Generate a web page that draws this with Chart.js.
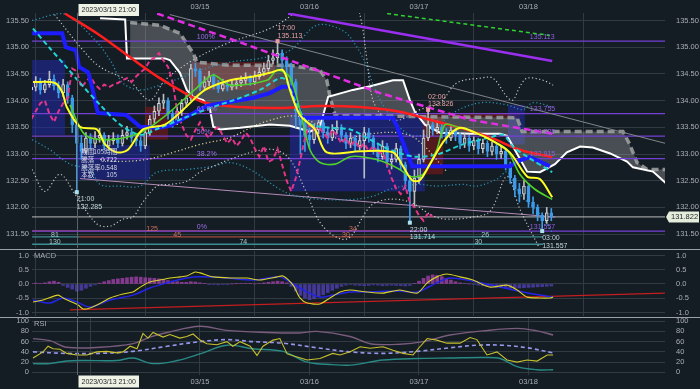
<!DOCTYPE html>
<html>
<head>
<meta charset="utf-8">
<script src="https://cdn.jsdelivr.net/npm/chart.js@4.4.0/dist/chart.umd.min.js"></script>
<style>
  body { margin: 0; width: 700px; height: 389px; background: #141c24; position: relative; overflow: hidden; }
  canvas { position: absolute; left: 0; }
  .sep { position: absolute; left: 0; width: 700px; height: 1px; background: #9aa2a8; }
</style>
</head>
<body>
<canvas id="main" width="700" height="250" style="top:0"></canvas>
<div class="sep" style="top:249px"></div>
<canvas id="macd" width="700" height="67" style="top:250px"></canvas>
<div class="sep" style="top:317px"></div>
<canvas id="rsi" width="700" height="72" style="top:317px"></canvas>
<script>
// ---- time axis (hours counted from 2023/03/13 00:00) ----
const dayTicks = [24, 48, 72, 96, 120];
const dayLabels = ['03/14', '03/15', '03/16', '03/17', '03/18'];
const crossHour = 21;
const crossLabel = '2023/03/13 21:00';

// ---- hourly candles, first one at 03/13 11:00 ----
const firstHour = 11;
const firstOpen = 134.20;
const closes = [
  134.25,134.35,134.20,134.30,134.40,134.28,134.15,134.30,134.05,
  133.55,133.20,133.05,133.30,133.20,133.30,133.35,133.15,133.25,133.30,
  133.20,133.35,133.40,133.30,133.25,133.15,133.40,133.65,133.80,133.95,
  134.00,133.75,133.60,133.80,133.95,134.05,134.60,134.55,134.25,134.35,
  134.45,134.30,134.22,134.30,134.25,134.30,134.33,134.38,134.42,134.35,
  134.45,134.53,134.60,134.75,134.80,134.89,134.75,134.63,134.35,133.80,
  133.55,133.35,133.27,133.45,133.59,133.40,133.30,133.45,133.50,133.35,
  133.20,133.30,133.15,133.25,133.40,133.30,133.10,132.95,133.15,132.85,
  132.90,133.10,132.80,132.50,132.30,132.55,132.90,133.30,133.55,133.45,
  133.50,133.40,133.30,133.45,133.35,133.20,133.30,133.15,133.25,133.10,
  133.20,133.05,133.15,133.00,133.05,132.80,132.55,132.35,132.25,132.40,
  132.10,132.00,131.85,131.75,131.90,131.822
];
const highs = [
  134.40,134.45,134.42,134.38,134.55,134.48,134.35,134.40,134.35,
  134.10,133.60,133.35,133.40,133.38,133.42,133.48,133.40,133.35,133.40,
  133.36,133.45,133.52,133.48,133.38,133.32,133.48,133.72,133.90,134.05,
  134.12,134.05,133.82,133.88,134.02,134.15,134.68,134.70,134.60,134.45,
  134.55,134.50,134.38,134.40,134.36,134.40,134.42,134.46,134.52,134.48,
  134.55,134.62,134.70,134.85,134.95,135.113,134.95,134.82,134.70,134.40,
  133.90,133.62,133.48,133.55,133.68,133.65,133.48,133.55,133.62,133.55,
  133.40,133.40,133.35,133.35,133.50,133.48,133.35,133.18,133.25,133.20,
  133.00,133.20,133.15,132.85,132.60,132.70,133.00,133.45,133.826,133.65,
  133.62,133.58,133.48,133.55,133.50,133.40,133.38,133.35,133.32,133.30,
  133.28,133.25,133.22,133.20,133.15,133.10,132.85,132.60,132.45,132.50,
  132.45,132.20,132.05,131.90,132.00,131.98
];
const lows = [
  134.10,134.18,134.12,134.15,134.25,134.20,134.05,134.08,133.95,
  133.40,132.285,132.90,133.00,133.10,133.12,133.22,133.08,133.10,133.18,
  133.12,133.15,133.28,133.22,133.15,133.05,133.10,133.35,133.58,133.72,
  133.85,133.65,133.50,133.55,133.72,133.88,134.00,134.45,134.18,134.20,
  134.28,134.22,134.15,134.18,134.18,134.20,134.22,134.26,134.30,134.28,
  134.30,134.40,134.46,134.55,134.68,134.70,134.60,134.40,134.10,133.50,
  133.00,133.05,133.10,133.20,133.38,133.30,133.20,133.25,133.38,133.25,
  133.10,133.12,133.05,133.08,132.55,133.22,133.00,132.85,132.90,132.75,
  132.72,132.85,132.70,132.35,131.714,132.00,132.45,132.85,133.25,133.35,
  133.38,133.30,133.20,133.25,133.25,133.10,133.12,133.05,133.08,133.00,
  133.02,132.95,132.98,132.90,132.92,132.70,132.45,132.20,132.10,132.15,
  132.00,131.88,131.75,131.557,131.70,131.75
];
const lastPrice = 131.822;
const chikouShift = 26;

// ---- price panel indicator lines (hour, price) ----
const redMaH = [18.4,26.1,32.7,39.2,44.7,49.1,56.8,65.5,74.3,83.1,91.8,98.4,105,111.6,118.1,125.2];
const redMaV = [135.63,135.22,134.81,134.42,134.14,133.96,133.88,133.86,133.90,133.88,133.79,133.64,133.49,133.31,133.08,132.94];
const blueH = [11.2,17.8,18.6,20.8,21.5,23.5,24.5,25.6,31.8,34.9,39.2,41.4,44.7,49.5,54.6,59.6,63.3,66.0,67.7,68.6,70.4,90.3,91.2,94.5,115.9,118.1,120.3,122.5,124.7];
const blueV = [135.26,135.26,135.00,134.94,134.63,134.53,134.20,133.77,133.73,133.51,133.49,133.53,133.68,133.90,133.98,134.05,134.14,134.26,134.26,134.11,133.68,133.68,133.51,132.77,132.77,132.88,132.94,132.86,132.77];
const cyanH = [11.4,15.1,18.4,21.7,26.1,30.5,34.9,39.2,44.7,50.2,56.8,61.1,66.2,68.8,71.7,76.5,80.9,85.3,89.6,95.1,99.9,105.6,111.6,114.4,116.6,119.7,125.2];
const cyanV = [135.35,134.98,134.66,134.33,133.92,133.55,133.36,133.49,133.68,133.86,134.05,134.20,134.42,134.01,133.58,133.49,133.46,133.27,133.08,132.95,132.99,133.18,133.31,133.36,133.14,132.95,132.66];
const yellowH = [11.4,16.2,17.8,18.8,21.7,25.4,27.2,29.8,32.2,35.5,40.3,44.3,49.1,54.6,59.0,63.3,66.2,67.7,69.9,73.2,75.8,83.1,90.3,92.5,94.5,96.2,98.4,101.7,105.0,108.3,111.6,115.9,119.7,122.5,125.2];
const yellowV = [134.35,134.33,134.16,133.88,133.51,133.46,133.18,133.03,133.08,133.46,133.55,133.83,134.20,134.38,134.44,134.52,134.57,134.20,133.73,133.46,133.03,133.05,133.03,132.77,132.51,132.51,132.81,133.27,133.49,133.40,133.27,133.03,132.58,132.53,132.19];
const greenH = [19.5,22.8,28.3,34.9,39.9,47.3,50.9,54.6,62.7,64.9,67.7,69.9,72.1,74.3,77.6,80.9,84.2,88.1,91.8,94.0,96.9,99.9,101.7,104.3,107.8,111.6,115.3,118.1,121.4,125.2];
const greenV = [133.92,133.36,133.27,133.40,133.68,134.24,134.48,134.29,134.38,134.57,134.44,133.83,133.08,132.84,132.81,132.95,132.94,132.86,132.71,132.58,132.62,133.08,133.55,133.51,133.42,133.27,133.08,132.62,132.34,132.15];
const spanAH = [26.1,31.6,32.0,40.3,41.4,43.6,45.1,46.5,48.7,50.2,50.9,52.4,56.8,63.3,67.7,72.1,74.3,76.1,81.5,85.3,90.3,92.5,94.0,95.1,97.3,100.6,107.2,113.8,115.3,117.0,119.7,122.5,125.8,128.4,131.3,134.1,137.9,141.6,142.9,147.3,150.4];
const spanAV = [135.54,135.52,134.79,134.79,134.76,134.52,134.20,134.07,134.01,133.83,133.51,133.46,133.49,133.55,133.53,133.42,133.51,134.07,134.20,134.27,134.38,134.38,134.01,133.79,133.55,133.40,133.38,133.38,133.34,133.08,132.67,132.66,132.81,133.03,133.14,133.12,133.01,132.86,132.75,132.67,132.43];
const spanBH = [32.7,39.2,43.6,46.5,47.3,54.6,67.7,74.3,75.8,76.5,77.6,96.2,117.5,118.6,140.7,142.2,143.8,146.0,150.4];
const spanBV = [135.46,135.41,135.26,134.89,134.72,134.66,134.66,134.57,134.38,134.07,133.73,133.70,133.68,133.42,133.42,133.18,132.84,132.71,132.71];
const bandUpH = [15.1,22.4,26.1,32.7,37.0,40.3,46.5,53.9,63.3,68.4,72.1,80.9,83.1,84.6,85.9,88.5,91.8,96.2,100.6,104.3,109.4,112.2,115.3,116.6,118.1,119.7,123.2,125.4];
const bandUpV = [135.72,134.94,134.63,134.35,134.01,134.38,134.76,135.07,135.35,135.63,136.06,136.06,135.59,134.76,134.01,133.68,133.64,133.83,133.96,134.33,134.42,134.42,134.07,134.01,134.26,134.42,134.38,134.29];
const bandLoH = [11.2,14.0,17.3,20.6,25.4,28.3,31.1,33.3,35.5,38.6,41.4,45.1,48,50.9,54.6,60.1,64.4,67.7,71.0,74.9,80.2,85.3,89.0,94.0,99.1,102.1,107.8,111.6,115.3,118.1,122.5];
const bandLoV = [132.71,132.30,132.62,132.25,131.69,131.65,131.78,131.82,132.10,132.40,132.43,132.49,132.66,132.77,132.90,133.05,133.08,132.90,132.34,131.65,131.41,132.02,132.15,132.10,131.84,131.78,131.82,131.93,132.58,131.97,131.22];
const band1UpH = [11.2,18.0,24.5,28.3,31.1,34.9,39.2,43.6,48,54.6,61.1,67.7,73.6,79.3,82.4,84.6,86.4,89.6,94.0,98.4,103.5,109.4,115.3,118.8,121.0,125.4];
const band1UpV = [135.50,135.63,135.18,134.76,134.33,134.20,134.29,134.42,134.57,134.72,134.79,134.94,135.41,135.31,135.00,134.63,134.20,133.73,133.36,133.40,133.77,133.96,133.92,133.83,133.96,133.88];
const band1LoH = [11.2,15.1,19.5,23.9,26.1,30.5,34.9,38.6,45.1,50.9,54.6,59.0,65.5,69.3,74.9,81.5,85.9,89.6,95.6,99.9,105.6,108.7,113.1,115.3,118.1,122.5,125.4];
const band1LoV = [133.27,133.08,132.81,132.71,132.43,132.40,132.40,132.66,132.71,132.77,132.84,132.71,132.34,132.21,132.15,132.15,132.21,132.34,132.43,132.40,132.43,132.40,132.53,132.66,132.25,131.88,131.50];
const creamH = [26.1,29.8,36.4,42.1,48,54.6,61.8,69.9,78.7,83.7,91.2,95.6,102.1];
const creamV = [132.90,132.86,132.90,133.03,133.18,133.31,133.59,133.70,133.27,133.36,133.40,133.27,132.67];

// ---- drawn trend lines ----
const trendGrayH = [41.4, 150.4], trendGrayV = [135.61, 133.19];
const trendLavH = [21.7, 125.8], trendLavV = [132.54, 131.82];
const trendPurpleH = [67.3, 125.2], trendPurpleV = [135.63, 134.74];
const trendGreenH = [89.0, 124.7], trendGreenV = [135.63, 135.22];
const trendMagH = [38.6, 56.8, 87.5, 107.2, 125.2], trendMagV = [135.63, 135.09, 134.14, 133.64, 133.38];

// ---- fibonacci levels ----
const fibLevels = [135.113, 133.755, 133.335, 132.915, 131.557];
const fibNames = ['100%', '61.8%', '50%', '38.2%', '0%'];

// ---- swing labels ----
const pivotH = [65, 98, 21, 94, 123];
const pivotP = [135.113, 133.826, 132.285, 131.714, 131.557];
const pivotTime = ['17:00', '02:00', '21:00', '22:00', '03:00'];
const pivotSide = ['high', 'high', 'low', 'low', 'low'];

// ---- range boxes ----
const boxKind = ['navy', 'navy', 'red', 'red', 'navy', 'red', 'red', 'navy'];
const boxH1 = [11.2, 21.3, 36.0, 46.2, 67.7, 96.9, 101.3, 115.5];
const boxH2 = [18.4, 37.0, 41.0, 64.4, 97.3, 101.3, 118.1, 119.2];
const boxTop = [134.76, 133.17, 133.88, 134.72, 133.73, 133.77, 133.77, 133.92];
const boxBottom = [133.36, 132.52, 133.27, 134.20, 132.30, 132.62, 133.68, 133.18];
const infoKeys = ['期間', '騰落', '騰落率', '本数'];
const infoVals = ['105時間', '0.722', '0.548', '105'];

// ---- bar-count lines at the bottom ----
const cycleP = [131.56, 131.45, 131.45, 131.45, 131.31];
const cycleH1 = [11.2, 11.2, 21.5, 94.5, 11.2];
const cycleH2 = [97.8, 21.5, 94.5, 123.2, 123.2];
const cycleKind = ['red', 'teal', 'red', 'teal', 'teal'];
const cycleText = ['125', '34', '81', '45', '30', '26', '130', '74', '30'];
const cycleTextH = [37.5, 81.5, 16.2, 43.0, 80.0, 110.5, 16.2, 57.5, 109.0];
const cycleTextP = [131.56, 131.56, 131.45, 131.45, 131.45, 131.45, 131.31, 131.31, 131.31];
const cycleTextKind = ['red', 'red', 'teal', 'red', 'red', 'teal', 'teal', 'teal', 'teal'];
const priceTicks = [131.5, 132, 132.5, 133, 133.5, 134, 134.5, 135, 135.5];

// ---- MACD ----
const macdH = [11.4,13.6,16.9,18.0,19.9,21.3,22.4,23.9,25.4,28.3,31.1,33.3,34.9,37.0,39.2,41.4,43.6,45.1,46.9,48,50.9,55.2,58.3,61.1,64.9,66.2,68.4,69.9,71.5,74.3,76.5,78.7,80.9,84.6,88.1,91.8,95.6,97.8,99.9,102.1,105.0,107.8,111.6,115.3,117.5,119.7,122.5,124.7,125.4];
const macdV = [-0.63,-0.56,-0.39,-0.49,-0.63,-0.74,-0.88,-0.84,-0.74,-0.49,-0.35,-0.28,-0.11,0.07,0.14,0.21,0.25,0.28,0.42,0.39,0.25,0.21,0.21,0.14,0.25,0.28,-0.04,-0.49,-0.67,-0.70,-0.49,-0.28,-0.21,-0.28,-0.32,-0.21,-0.32,0.04,0.25,0.35,0.25,0.14,-0.11,-0.04,-0.21,-0.46,-0.49,-0.49,-0.46];
const signalH = [11.4,15.1,18.0,21.0,23.9,28.3,33.3,37.0,40.8,45.1,48,53.9,59.6,65.5,67.7,71.5,74.3,77.1,80.9,84.6,91.8,95.6,99.9,102.8,108.7,113.8,118.8,122.5,125.4];
const signalV = [-0.56,-0.67,-0.49,-0.63,-0.81,-0.56,-0.39,-0.14,0.04,0.21,0.25,0.21,0.14,0.25,0.07,-0.28,-0.46,-0.39,-0.28,-0.28,-0.25,-0.28,0.04,0.21,0.07,-0.11,-0.28,-0.39,-0.46];
const macdLongH = [19.5, 149.9];
const macdLongV = [-0.91, -0.32];
const histVals = [
  0.02,0.03,0.02,0.04, 0.08,0.10,0.06, -0.05,-0.12,-0.18, -0.25,-0.22,-0.15,-0.08,
  -0.03,0.03,0.08, 0.12,0.16,0.18,0.20,0.22,0.24,0.25,0.24, 0.22,0.21,0.20,0.18,0.15,0.12,
  0.10,0.08,0.06,0.06,0.08,0.07,0.04,
  0.01,-0.01,-0.02,-0.03,-0.02,-0.01,0.0,0.01,0.02,0.02,0.01,0.0,0.02,0.04,
  0.06,0.08,0.10,0.08,0.04, -0.08,-0.25,-0.40,-0.50,-0.55,-0.52,-0.45,
  -0.38,-0.30,-0.22,-0.15,-0.08,-0.04,-0.02,
  -0.04,-0.05,-0.06,-0.05,-0.03,-0.04,-0.06,-0.05,-0.04,-0.05,-0.06,-0.07,-0.05,
  0.02,0.10,0.20,0.28,0.32,0.30,0.26,0.20,0.14,0.08, 0.04,0.02,0.0,-0.02,-0.04,
  -0.06,-0.08,-0.10,-0.12,-0.13,-0.14,-0.15,-0.15,-0.14,-0.13,-0.12,-0.11,-0.10,-0.09,-0.08,-0.07
];
const macdTicks = [-1, -0.5, 0, 0.5, 1];

// ---- RSI ----
const rsiH = [11.4,13.6,14.7,15.8,17.3,18.8,21.0,23.2,25.4,27.6,29.8,31.1,32.7,34.2,35.5,36.6,37.7,39.9,41.4,43.6,45.1,46.5,48,49.5,51.7,53.9,55.2,56.8,59.0,60.5,61.8,64.0,65.5,67.1,69.3,71.5,74.3,77.1,78.7,80.9,83.1,85.3,88.1,90.3,92.5,94.7,96.2,97.8,99.9,102.1,105.0,107.2,108.7,110.9,113.1,115.3,117.5,119.7,121.9,124.1,125.4];
const rsiV = [28,40,51,46,45,37,34,34,40,41,38,40,51,46,76,67,78,69,74,67,70,75,63,56,54,60,51,60,51,33,51,63,66,36,30,24,27,37,34,40,50,47,50,43,37,34,50,66,63,57,57,68,64,34,40,24,20,24,22,34,34];
const rsiAvgH = [11.4,18.8,26.1,33.3,40.8,48,53.9,59.6,66.2,73.6,80.9,88.1,95.6,102.8,108.7,114.4,119.7,125.4];
const rsiAvgV = [40,37,37,41,51,60,64,60,57,48,40,37,41,48,53,53,48,38];
const rsiHiH = [11.4,15.1,18.8,26.1,33.3,37.0,40.8,48,53.9,62.7,69.9,73.6,80.9,85.3,91.8,96.9,102.8,110.0,117.5,121.9,125.4];
const rsiHiV = [66,62,49,49,56,69,78,90,82,78,77,80,70,56,55,60,73,81,86,81,73];
const rsiLoH = [11.4,15.1,18.8,22.4,29.8,33.3,37.7,43.0,48,53.9,59.6,66.2,71.5,77.1,80.9,88.1,95.6,102.8,110.0,113.8,117.5,121.9,125.4];
const rsiLoV = [17,17,22,23,23,28,17,23,36,53,46,41,20,15,14,24,27,28,29,27,11,5,5];
const rsiTicks = [0, 20, 40, 60, 80, 100];

// ---------------- styling & helpers ----------------
const FAM = '"Liberation Sans", Arial, sans-serif';
const font = s => s + 'px ' + FAM;
const axisColor = '#a9aeb3';
const gridColor = '#323a42';
const crossColor = '#59616a';
const xMin = 11.18, xMax = 149.92;
const boxColors = { navy: 'rgba(32,42,170,0.55)', red: 'rgba(125,24,24,0.62)' };
const cycleColors = { red: '#a34a3a', teal: '#3d8d90' };
const cycleTextColors = { red: '#d0705e', teal: '#a2cccc' };

const pts = (hs, vs) => hs.map((h, i) => ({ x: h, y: vs[i] }));
const line = (data, color, width, order, extra) => Object.assign({
  type: 'line', data, borderColor: color, borderWidth: width, pointRadius: 0,
  fill: false, tension: 0, order
}, extra || {});

function yAxes(min, max, ticks, fmt) {
  const common = {
    type: 'linear', min, max,
    afterBuildTicks: s => { s.ticks = ticks.map(v => ({ value: v })); },
    ticks: { color: axisColor, font: { family: FAM, size: 7.5 }, padding: 3, autoSkip: false, callback: v => fmt(v) },
    border: { display: false }
  };
  return {
    y: Object.assign({}, common, { position: 'left', grid: { color: gridColor, drawTicks: false },
      afterFit: s => { s.width = 32; s.paddingTop = 0; s.paddingBottom = 0; } }),
    yR: Object.assign({}, common, { position: 'right', grid: { display: false },
      afterFit: s => { s.width = 35; s.paddingTop = 0; s.paddingBottom = 0; } })
  };
}
function xAxis(position, height, showLabels) {
  return {
    type: 'linear', position, min: xMin, max: xMax, offset: false,
    afterBuildTicks: s => { s.ticks = dayTicks.map(v => ({ value: v })); },
    afterFit: s => { s.height = height; s.paddingLeft = 0; s.paddingRight = 0; },
    ticks: { display: showLabels, color: axisColor, font: { family: FAM, size: 7.5 }, padding: 2,
      maxRotation: 0, autoSkip: false, callback: v => dayLabels[dayTicks.indexOf(v)] },
    grid: { color: gridColor, drawTicks: false }, border: { display: false }
  };
}
function baseOptions(scales, padding) {
  return {
    responsive: false, animation: false, devicePixelRatio: 1,
    layout: { padding, autoPadding: false },
    plugins: { legend: { display: false }, tooltip: { enabled: false } },
    scales
  };
}
function crossLine(chart, top, bottom) {
  const { ctx, scales: { x } } = chart;
  const cx = Math.round(x.getPixelForValue(crossHour)) + 0.5;
  ctx.save();
  ctx.strokeStyle = crossColor; ctx.lineWidth = 1;
  ctx.beginPath(); ctx.moveTo(cx, top); ctx.lineTo(cx, bottom); ctx.stroke();
  ctx.restore();
  return cx;
}
function crossBox(ctx, cx, top) {
  ctx.save();
  ctx.font = font(7);
  const w = ctx.measureText(crossLabel).width + 6;
  ctx.fillStyle = '#edf2e4';
  ctx.fillRect(cx + 1, top, w, 12);
  ctx.fillStyle = '#1e2226';
  ctx.textBaseline = 'middle'; ctx.textAlign = 'left';
  ctx.fillText(crossLabel, cx + 4, top + 6.5);
  ctx.restore();
}

// ---------------- price panel ----------------
const opens = closes.map((c, i) => (i === 0 ? firstOpen : closes[i - 1]));
const candleHour = i => firstHour + i;
const isUp = closes.map((c, i) => c >= opens[i]);

const mainSets = [];
const addSet = d => mainSets.push(d) - 1;

const spanBIdx = addSet(line(pts(spanBH, spanBV), '#8c8f90', 3.5, 90, { borderDash: [7, 4] }));
addSet(line(pts(spanAH, spanAV), '#ffffff', 2, 89, {
  fill: { target: spanBIdx, above: 'rgba(165,170,170,0.36)', below: 'rgba(165,170,170,0.36)' }
}));
fibLevels.forEach(lv => addSet(line([{ x: xMin, y: lv }, { x: xMax, y: lv }], '#7440d4', 1.3, 80)));
cycleP.forEach((p, i) => addSet(line([{ x: cycleH1[i], y: p }, { x: cycleH2[i], y: p }], cycleColors[cycleKind[i]], 1.3, 80)));
addSet(line([{ x: xMin, y: lastPrice }, { x: xMax, y: lastPrice }], 'rgba(215,215,215,0.85)', 1, 79));
addSet(line(pts(trendGrayH, trendGrayV), '#80868a', 1, 78));
addSet(line(pts(trendLavH, trendLavV), '#b48cb8', 1, 78));
const dots = { borderDash: [1.2, 2.4], tension: 0.35 };
addSet(line(pts(bandUpH, bandUpV), 'rgba(225,225,225,0.85)', 1.2, 70, dots));
addSet(line(pts(bandLoH, bandLoV), 'rgba(225,225,225,0.85)', 1.2, 70, dots));
addSet(line(pts(band1UpH, band1UpV), '#2b8fb0', 1.3, 70, dots));
addSet(line(pts(band1LoH, band1LoV), '#2b8fb0', 1.3, 70, dots));
addSet(line(pts(creamH, creamV), '#d6cc98', 1.3, 70, dots));
addSet({
  type: 'bar', order: 60, grouped: false, barThickness: 1,
  data: closes.map((c, i) => ({ x: candleHour(i), y: [lows[i], highs[i]] })),
  backgroundColor: isUp.map(u => (u ? '#b9bec2' : '#3d9be9'))
});
addSet({
  type: 'bar', order: 59, grouped: false, barThickness: 3, minBarLength: 1,
  data: closes.map((c, i) => ({ x: candleHour(i), y: [opens[i], c] })),
  backgroundColor: isUp.map(u => (u ? 'rgba(20,28,36,0.7)' : '#3d9be9')),
  borderColor: isUp.map(u => (u ? '#d2d6d9' : '#3d9be9')),
  borderWidth: 1, borderSkipped: false
});
addSet(line(closes.map((c, i) => ({ x: candleHour(i) - chikouShift, y: c })), '#e3338a', 2, 50, { borderDash: [5, 3] }));
addSet(line(pts(redMaH, redMaV), '#ff1e1e', 2.5, 36, { tension: 0.35 }));
addSet(line(pts(blueH, blueV), '#1c1cff', 4, 35));
addSet(line(pts(cyanH, cyanV), '#22d3d3', 2, 33, { borderDash: [5, 3], tension: 0.3 }));
addSet(line(pts(greenH, greenV), '#4ed12a', 1.6, 32, { tension: 0.3 }));
addSet(line(pts(yellowH, yellowV), '#ffff22', 2, 30, { tension: 0.3 }));
addSet(line(pts(trendPurpleH, trendPurpleV), '#9a2ff0', 2.5, 20));
addSet(line(pts(trendGreenH, trendGreenV), '#2fd42f', 1.5, 20, { borderDash: [4, 3] }));
addSet(line(pts(trendMagH, trendMagV), '#e22ee2', 2.5, 20, { borderDash: [7, 4] }));

const mainOverlay = {
  id: 'mainOverlay',
  beforeDatasetsDraw(chart) {
    const { ctx, chartArea: a, scales: { x, y } } = chart;
    ctx.save();
    ctx.beginPath(); ctx.rect(a.left, a.top, a.right - a.left, a.bottom - a.top); ctx.clip();
    boxKind.forEach((k, i) => {
      const x1 = x.getPixelForValue(boxH1[i]), x2 = x.getPixelForValue(boxH2[i]);
      const y1 = y.getPixelForValue(boxTop[i]), y2 = y.getPixelForValue(boxBottom[i]);
      ctx.fillStyle = boxColors[k];
      ctx.fillRect(x1, y1, x2 - x1, y2 - y1);
    });
    ctx.restore();
  },
  afterDatasetsDraw(chart) {
    const { ctx, chartArea: a, scales: { x, y } } = chart;
    const X = v => x.getPixelForValue(v), Y = v => y.getPixelForValue(v);
    const cx = crossLine(chart, a.top, a.bottom);
    ctx.save();
    // fibonacci labels
    ctx.font = font(7); ctx.textBaseline = 'bottom'; ctx.textAlign = 'left';
    fibLevels.forEach((lv, i) => {
      ctx.fillStyle = '#9d72ea';
      ctx.fillText(fibNames[i], X(47.3), Y(lv) - 1);
      ctx.fillStyle = '#8f62de';
      ctx.fillText(lv.toFixed(3), X(120.3), Y(lv) - 1);
    });
    // bar-count labels
    ctx.textAlign = 'center'; ctx.textBaseline = 'middle';
    cycleText.forEach((t, i) => {
      ctx.fillStyle = cycleTextColors[cycleTextKind[i]];
      ctx.fillText(t, X(cycleTextH[i]), Y(cycleTextP[i]) - 2);
    });
    // info box text
    const bx = X(boxH1[1]), by = Y(boxTop[1]);
    ctx.font = '6.5px "Noto Sans CJK JP", ' + FAM;
    infoKeys.forEach((k, i) => {
      ctx.fillStyle = '#d8dbe8';
      ctx.textAlign = 'left'; ctx.fillText(k, bx + 3, by + 7 + i * 7.6);
      ctx.textAlign = 'right'; ctx.fillText(infoVals[i], bx + 39, by + 7 + i * 7.6);
    });
    // swing high / low labels
    ctx.font = font(7); ctx.textAlign = 'left';
    pivotH.forEach((h, i) => {
      const px = X(h), py = Y(pivotP[i]);
      const hi = pivotSide[i] === 'high';
      ctx.fillStyle = hi ? '#e99d9d' : '#a9e2ea';
      ctx.fillRect(px - 2, py - 2, 4, 4);
      ctx.fillStyle = hi ? '#e6a3a3' : '#c2d8dc';
      const t1 = hi ? py - 13 : py + 7, t2 = hi ? py - 5.5 : py + 14.5;
      ctx.fillText(pivotTime[i], px, t1);
      ctx.fillText(pivotP[i].toFixed(3), px, t2);
    });
    // last price tag
    const ly = Y(lastPrice);
    ctx.fillStyle = '#e4ecdb';
    ctx.beginPath();
    ctx.moveTo(a.right + 1, ly); ctx.lineTo(a.right + 4, ly - 5.5); ctx.lineTo(a.right + 34, ly - 5.5);
    ctx.lineTo(a.right + 34, ly + 5.5); ctx.lineTo(a.right + 4, ly + 5.5); ctx.closePath(); ctx.fill();
    ctx.fillStyle = '#1e2226'; ctx.font = font(7.5); ctx.textAlign = 'left';
    ctx.fillText(lastPrice.toFixed(3), a.right + 6, ly + 0.5);
    ctx.restore();
    crossBox(ctx, cx, 4);
  }
};

new Chart(document.getElementById('main'), {
  type: 'line',
  data: { datasets: mainSets },
  options: baseOptions(Object.assign({ x: xAxis('top', 13, true) },
    yAxes(131.24, 135.64, priceTicks, v => v.toFixed(2))), { top: 0, bottom: 2, left: 0, right: 0 }),
  plugins: [mainOverlay]
});

// ---------------- MACD panel ----------------
const macdOverlay = {
  id: 'macdOverlay',
  afterDatasetsDraw(chart) {
    const { ctx, chartArea: a, scales: { y } } = chart;
    crossLine(chart, 0, a.bottom);
    ctx.save();
    ctx.font = font(7.5); ctx.fillStyle = axisColor; ctx.textBaseline = 'middle'; ctx.textAlign = 'left';
    ctx.fillText('MACD', a.left + 2, y.getPixelForValue(1));
    ctx.restore();
  }
};
new Chart(document.getElementById('macd'), {
  type: 'line',
  data: { datasets: [
    { type: 'bar', order: 20, grouped: false, barThickness: 3,
      data: histVals.map((v, i) => ({ x: candleHour(i), y: v })),
      backgroundColor: histVals.map(v => (v >= 0 ? 'rgba(150,62,160,0.85)' : 'rgba(78,62,172,0.85)')) },
    line(pts(macdLongH, macdLongV), '#c41e1e', 1.2, 10),
    line(pts(signalH, signalV), '#2424e6', 1.5, 6, { tension: 0.3 }),
    line(pts(macdH, macdV), '#d9d22a', 1.1, 5, { tension: 0.25 })
  ] },
  options: baseOptions(Object.assign({ x: xAxis('bottom', 0, false) },
    yAxes(-1.123, 1.158, macdTicks, v => v.toFixed(1))), { top: 1, bottom: 1, left: 0, right: 0 }),
  plugins: [macdOverlay]
});

// ---------------- RSI panel ----------------
const rsiOverlay = {
  id: 'rsiOverlay',
  afterDatasetsDraw(chart) {
    const { ctx, chartArea: a, scales: { y } } = chart;
    const cx = crossLine(chart, 0, a.bottom);
    ctx.save();
    ctx.font = font(7.5); ctx.fillStyle = axisColor; ctx.textBaseline = 'middle'; ctx.textAlign = 'left';
    ctx.fillText('RSI', a.left + 2, y.getPixelForValue(100) + 3);
    ctx.restore();
    crossBox(ctx, cx, a.bottom + 0.5);
  }
};
new Chart(document.getElementById('rsi'), {
  type: 'line',
  data: { datasets: [
    line(pts(rsiHiH, rsiHiV), '#7a5c7c', 1.4, 10, { tension: 0.35 }),
    line(pts(rsiLoH, rsiLoV), '#288a84', 1.4, 10, { tension: 0.35 }),
    line(pts(rsiAvgH, rsiAvgV), '#9797ea', 1.6, 8, { borderDash: [4, 3], tension: 0.35 }),
    line(pts(rsiH, rsiV), '#c7c12e', 1.1, 5)
  ] },
  options: baseOptions(Object.assign({ x: xAxis('bottom', 14, true) },
    yAxes(-5.28, 106.26, rsiTicks, v => String(v))), { top: 1, bottom: 0, left: 0, right: 0 }),
  plugins: [rsiOverlay]
});
</script>
</body>
</html>
